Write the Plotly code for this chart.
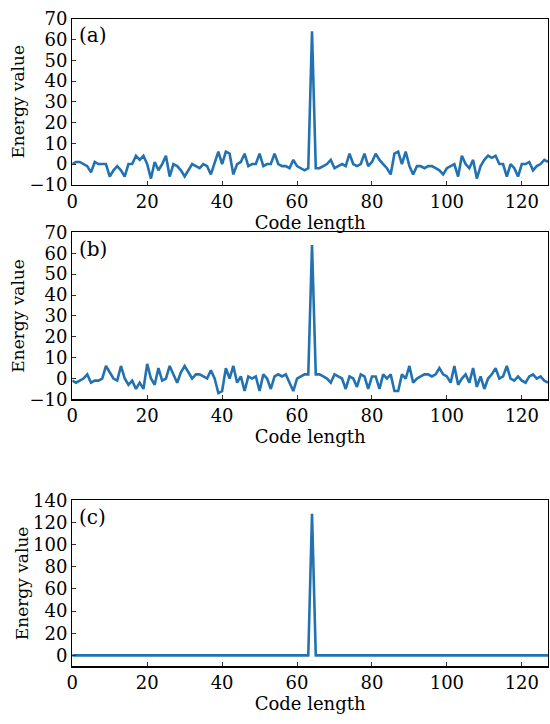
import plotly.graph_objects as go
from plotly.subplots import make_subplots

code_index = list(range(128))

energy_a = [0, 1, 1, 0, -1, -4, 1, 0, 0, 0,
            -6, -3, -1, -3, -6, 0, 0, 4, 2, 4,
            0, -7, 1, -3, 0, 4, -6, 0, -1, -3,
            -6, -3, 0, -1, -2, 0, -1, -5, 0, 6,
            0, 6, 5, -5, 0, 1, 5, -1, 0, 0,
            5, -1, 0, 0, 5, 0, -1, -1, -2, 2,
            -1, -2, -3, -2, 64, -2, -2, -1, 0, 2,
            -2, -1, 0, -1, 5, 0, -1, 0, 5, -1,
            1, 5, 2, 0, -2, -5, 5, 6, 0, 6,
            -1, -5, -1, -1, -2, -1, -1, -2, -3, -5,
            -2, -1, 0, -6, 4, 0, -2, 2, -7, -1,
            2, 4, 3, 4, 0, 0, -6, 0, -2, -6,
            0, 0, 1, -3, -1, 0, 2, 1]

energy_b = [-1, -2, -1, 0, 2, -2, -1, -1, 0, 6,
            3, 0, -1, 6, 0, -3, -1, -5, -2, -5,
            7, 0, -3, 5, -1, 0, 6, 2, -2, 3,
            6, 3, 0, 2, 2, 1, 0, 4, 0, -7,
            -6, 5, 0, 6, -2, 1, -6, 1, 0, 1,
            -6, 2, 0, -5, 1, 2, 1, 2, -2, -6,
            0, 1, 2, 2, 64, 2, 2, 1, 0, -2,
            2, 1, 0, -5, 1, 0, -4, 2, 1, -5,
            1, 1, -5, 2, 0, 2, -6, -6, 2, 0,
            6, -2, 0, 1, 2, 2, 1, 2, 5, 2,
            1, -2, 6, -3, 0, 2, -2, 5, -4, 1,
            -5, 0, 2, 5, 0, 1, 6, 0, -1, 1,
            -1, -2, 1, 2, 0, 1, -1, -2]

energy_c = [128 if i == 64 else 0 for i in code_index]

panel_labels = ["(a)", "(b)", "(c)"]
x_ticks = [0, 20, 40, 60, 80, 100, 120]
y_ticks_ab = [-10, 0, 10, 20, 30, 40, 50, 60, 70]
y_ticks_c = [0, 20, 40, 60, 80, 100, 120, 140]

assert len(energy_a) == 128 and len(energy_b) == 128

W, H = 550, 724
FONT = "DejaVu Serif"
LINE = "#2271b1"

fig = make_subplots(rows=3, cols=1)
series = [energy_a, energy_b, energy_c]
for r, ys in enumerate(series, start=1):
    fig.add_trace(go.Scatter(x=code_index, y=ys, mode="lines",
                             line=dict(color=LINE, width=2.6),
                             showlegend=False, hoverinfo="skip"), row=r, col=1)

def ydom(top_px, bottom_px):
    return [1 - bottom_px / H, 1 - top_px / H]

xdom = [67 / W, 548 / W]
doms = [ydom(8, 179), ydom(228, 400), ydom(504, 675)]
yranges = [[-10, 70], [-10, 70], [-10, 140]]
yticks = [y_ticks_ab, y_ticks_ab, y_ticks_c]

axis_common = dict(showline=True, linecolor="black", linewidth=1.2, mirror=True,
                   ticks="inside", ticklen=4, tickcolor="#333", showgrid=False,
                   zeroline=False, tickfont=dict(family=FONT, size=18, color="black"))

for i in range(3):
    xa = "xaxis" if i == 0 else f"xaxis{i+1}"
    ya = "yaxis" if i == 0 else f"yaxis{i+1}"
    fig.layout[xa].update(domain=xdom, range=[0, 127], tickvals=x_ticks,
                          title=dict(text="Code length", standoff=0,
                                     font=dict(family=FONT, size=18, color="black")),
                          **axis_common)
    fig.layout[ya].update(domain=doms[i], range=yranges[i], tickvals=yticks[i],
                          title=dict(text="Energy value", standoff=0,
                                     font=dict(family=FONT, size=17, color="black")),
                          **axis_common)
    xr = "x" if i == 0 else f"x{i+1}"
    yr = "y" if i == 0 else f"y{i+1}"
    fig.add_annotation(text=panel_labels[i], xref=f"{xr} domain", yref=f"{yr} domain",
                       x=0.01, y=0.985, xanchor="left", yanchor="top", showarrow=False,
                       font=dict(family=FONT, size=20, color="black"))

fig.update_layout(width=W, height=H, margin=dict(l=0, r=0, t=0, b=0),
                  plot_bgcolor="white", paper_bgcolor="white")

fig.write_html("out.html", config={"displayModeBar": False, "staticPlot": True},
               post_script="document.body.style.margin='0';document.body.style.overflow='hidden';")
